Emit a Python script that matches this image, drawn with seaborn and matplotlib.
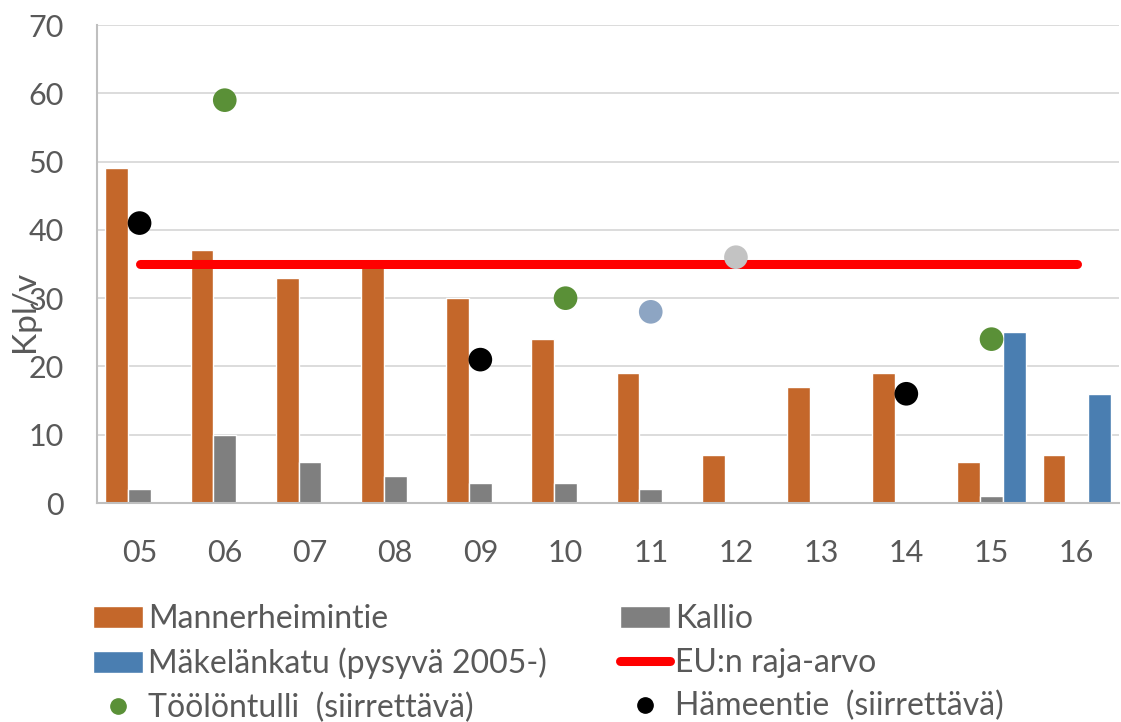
import numpy as np
import pandas as pd
import matplotlib
matplotlib.use("Agg")
import matplotlib.pyplot as plt
import seaborn as sns
from matplotlib.lines import Line2D
from matplotlib.patches import Patch

nan = np.nan
years = ["05", "06", "07", "08", "09", "10", "11", "12", "13", "14", "15", "16"]
mannerheimintie = [49, 37, 33, 35, 30, 24, 19, 7, 17, 19, 6, 7]
kallio = [2, 10, 6, 4, 3, 3, 2, nan, nan, nan, 1, nan]
makelankatu = [nan, nan, nan, nan, nan, nan, nan, nan, nan, nan, 25, 16]
eu_limit = [35] * 12
toolontulli = [nan, 59, nan, nan, nan, 30, nan, nan, nan, nan, 24, nan]
hameentie = [41, nan, nan, nan, 21, nan, nan, nan, nan, 16, nan, nan]
extra_years = ["11", "12"]
extra_values = [28, 36]

bar_names = ["Mannerheimintie", "Kallio", "Mäkelänkatu (pysyvä 2005-)"]
bar_colors = ["#C4672A", "#7F7F7F", "#4A7EB1"]
eu_name = "EU:n raja-arvo"
too_name = "Töölöntulli  (siirrettävä)"
ham_name = "Hämeentie  (siirrettävä)"
c_green = "#5A9037"
c_black = "#000000"
extra_colors = ["#8DA5C3", "#C3C3C3"]
txt = "#595959"

sns.set_theme(style="white")
plt.rcParams["font.family"] = ["Lato", "DejaVu Sans"]

df = pd.DataFrame({
    "year": years * 3,
    "station": [bar_names[0]] * 12 + [bar_names[1]] * 12 + [bar_names[2]] * 12,
    "value": mannerheimintie + kallio + makelankatu,
}).dropna()

fig = plt.figure(figsize=(11.21, 7.22), dpi=100)
ax = fig.add_axes([0.0865, 0.3033, 0.912, 0.662])

sns.barplot(data=df, x="year", y="value", hue="station", order=years,
            hue_order=bar_names, palette=bar_colors, saturation=1,
            width=0.8, errorbar=None, legend=False, ax=ax, zorder=2)

xpos = np.arange(len(years))
sns.lineplot(x=xpos, y=eu_limit, color="#FF0000", linewidth=6.5,
             solid_capstyle="round", ax=ax, zorder=3, legend=False)

def pts(vals):
    x = [i for i, v in enumerate(vals) if not np.isnan(v)]
    y = [v for v in vals if not np.isnan(v)]
    return x, y

x, y = pts(toolontulli)
sns.scatterplot(x=x, y=y, color=c_green, s=290, edgecolor="none", ax=ax, zorder=4, legend=False)
x, y = pts(hameentie)
sns.scatterplot(x=x, y=y, color=c_black, s=290, edgecolor="none", ax=ax, zorder=4, legend=False)
for yr, v, c in zip(extra_years, extra_values, extra_colors):
    sns.scatterplot(x=[years.index(yr)], y=[v], color=c, s=290, edgecolor="none",
                    ax=ax, zorder=4, legend=False)

ax.set_xlim(-0.5, len(years) - 0.5)
ax.set_ylim(0, 70)
ax.set_yticks(range(0, 71, 10))
ax.set_xticks(xpos)
ax.set_xticklabels(years)
ax.grid(axis="y", color="#D9D9D9", linewidth=1.3, zorder=0)
ax.set_axisbelow(True)
for s in ["top", "right"]:
    ax.spines[s].set_visible(False)
for s in ["left", "bottom"]:
    ax.spines[s].set_color("#BFBFBF")
    ax.spines[s].set_linewidth(1.5)
ax.tick_params(axis="y", length=0, pad=24, labelsize=22, labelcolor=txt)
ax.tick_params(axis="x", length=0, pad=26, labelsize=22, labelcolor=txt)
ax.set_xlabel("")
ax.set_ylabel("Kpl/v", fontsize=24, color=txt)
ax.yaxis.set_label_coords(-0.056, 0.40)

h_man = Patch(facecolor=bar_colors[0], label=bar_names[0])
h_kal = Patch(facecolor=bar_colors[1], label=bar_names[1])
h_mak = Patch(facecolor=bar_colors[2], label=bar_names[2])
h_eu = Line2D([0], [0], color="#FF0000", linewidth=6.5, solid_capstyle="round", label=eu_name)
h_too = Line2D([0], [0], marker="o", linestyle="none", color=c_green, markersize=11, label=too_name)
h_ham = Line2D([0], [0], marker="o", linestyle="none", color=c_black, markersize=11, label=ham_name)

leg = fig.legend(handles=[h_man, h_mak, h_too, h_kal, h_eu, h_ham], ncol=2,
                 loc="upper left", bbox_to_anchor=(0.083, 0.163), frameon=False,
                 fontsize=23, labelcolor=txt, handlelength=1.56, handleheight=0.68,
                 handletextpad=0.15, columnspacing=2.3, labelspacing=0.42,
                 borderaxespad=0, borderpad=0)

fig.savefig("out.png", dpi=100)
